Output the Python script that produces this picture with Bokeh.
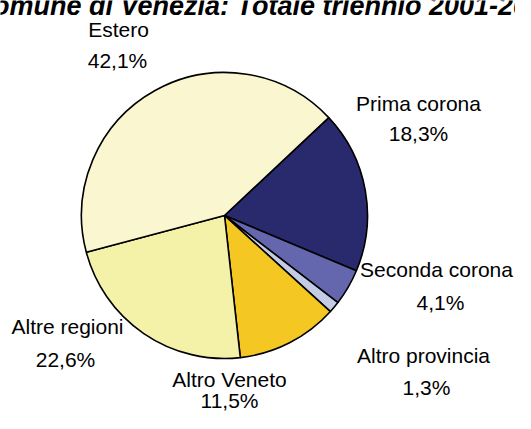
import math
from bokeh.plotting import figure
from bokeh.models import Range1d, Label
from bokeh.core.properties import value
from bokeh.embed import file_html
from bokeh.resources import INLINE

# ---- data ----
categories = ["Prima corona", "Seconda corona", "Altro provincia",
              "Altro Veneto", "Altre regioni", "Estero"]
shares = [18.3, 4.1, 1.3, 11.5, 22.6, 42.1]
colors = ["#29296d", "#6466ae", "#c3cbe6", "#f5c723", "#f4f1a9", "#faf7d0"]
title_text = "Comune di Venezia: Totale triennio 2001-2003"

# ---- layout (canvas pixels, y downward) ----
W, H = 515, 413
CX, CY, R = 224, 215, 143
START_DEG = 46.8  # clockwise from 12 o'clock where the first slice begins
label_pos = {  # x_name, y_name, x_pct, y_pct
    "Prima corona": (418, 103, 418, 133),
    "Seconda corona": (436, 269, 440, 302),
    "Altro provincia": (423, 355, 426, 387),
    "Altre regioni": (67, 326, 65, 359),
    "Altro Veneto": (229, 379, 229, 400),
    "Estero": (118, 29, 117, 60),
}
FONT = "'Liberation Sans', Arial, sans-serif"

p = figure(width=W, height=H, output_backend="svg", toolbar_location=None,
           x_range=Range1d(0, W), y_range=Range1d(0, H), min_border=0,
           background_fill_color="white", border_fill_color="white")
p.axis.visible = False
p.grid.visible = False
p.outline_line_color = None

total = sum(shares)
cum = START_DEG
starts, ends = [], []
for s in shares:
    a0 = cum
    a1 = cum + s / total * 360.0
    starts.append(math.radians(90 - a0))
    ends.append(math.radians(90 - a1))
    cum = a1

p.wedge(x=[CX] * len(shares), y=[H - CY] * len(shares), radius=R,
        radius_units="screen",
        start_angle=starts, end_angle=ends, direction="clock",
        fill_color=colors, line_color="black", line_width=1.6)

names, pcts, x1s, y1s, x2s, y2s = [], [], [], [], [], []
for c, s in zip(categories, shares):
    ax, ay, bx, by = label_pos[c]
    names.append(c)
    pcts.append(f"{s:.1f}%".replace(".", ","))
    x1s.append(ax)
    y1s.append(H - ay)
    x2s.append(bx)
    y2s.append(H - by)

for txt, xs, ys in ((names, x1s, y1s), (pcts, x2s, y2s)):
    p.text(x=xs, y=ys, text=txt, text_font=value(FONT), text_font_size="21px",
           text_align="center", text_baseline="middle", text_color="black")

p.add_layout(Label(x=-27, y=H - 5, x_units="screen", y_units="screen",
                   text=title_text, text_font=FONT,
                   text_font_size="27px", text_font_style="bold italic",
                   text_align="left", text_baseline="alphabetic", text_color="black"))

open("out.html", "w").write(file_html(p, INLINE))
